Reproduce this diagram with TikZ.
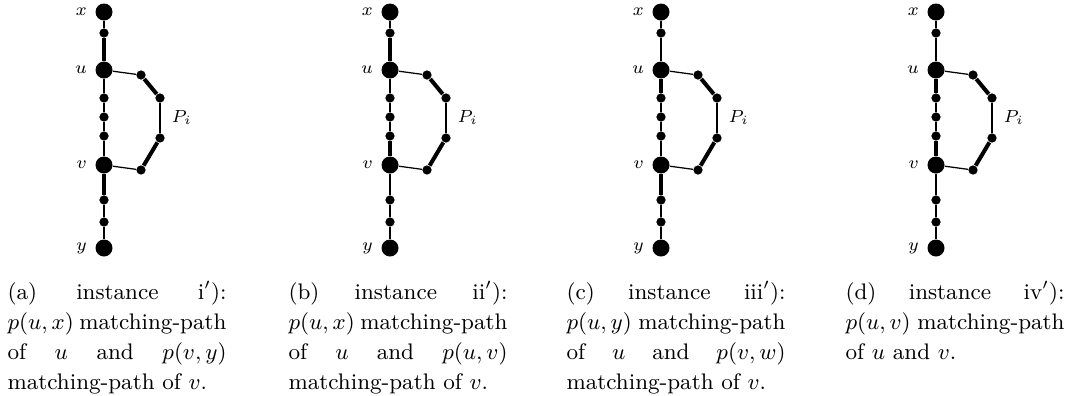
\documentclass[tikz,border=0pt]{standalone}
\usetikzlibrary{calc}
\tikzset{
  bignode/.style={circle, fill=black, inner sep=0pt, minimum size=6.8pt},
  smallnode/.style={circle, fill=black, inner sep=0pt, minimum size=3.7pt},
  thinedge/.style={line width=0.5pt},
  thickedge/.style={line width=1.6pt},
  lbl/.style={font=\fontsize{7.5}{9}\selectfont, inner sep=0pt},
  every label/.style={lbl},
  label distance=3pt,
  capt/.style={anchor=north west, inner sep=0pt, text width=87.6pt, align=justify, font=\fontsize{9}{12}\selectfont},
}
% #1 prefix, #2 x of main line, #3 s-u, #4 u-a, #5 c-v, #6 v-d
\newcommand\mypanel[6]{%
  \node[bignode, label=left:$x$] (#1x) at (#2,12) {};
  \node[smallnode] (#1s) at (#2,33) {};
  \node[bignode, label=left:$u$] (#1u) at (#2,70) {};
  \node[smallnode] (#1a) at (#2,98) {};
  \node[smallnode] (#1b) at (#2,117) {};
  \node[smallnode] (#1c) at (#2,136) {};
  \node[bignode, label=left:$v$] (#1v) at (#2,165) {};
  \node[smallnode] (#1d) at (#2,200) {};
  \node[smallnode] (#1e) at (#2,222) {};
  \node[bignode, label=left:$y$] (#1y) at (#2,248) {};
  \node[smallnode] (#1p) at ({#2+37},75) {};
  \node[smallnode] (#1q) at ({#2+56},98) {};
  \node[smallnode] (#1r) at ({#2+56},138) {};
  \node[smallnode] (#1t) at ({#2+37},170) {};
  \node[lbl, anchor=base west] (#1P) at ({#2+67},122) {$P_i$};
  \draw[thinedge] (#1x) -- (#1s);
  \draw[#3] (#1s) -- (#1u);
  \draw[#4] (#1u) -- (#1a);
  \draw[thinedge] (#1a) -- (#1b);
  \draw[thinedge] (#1b) -- (#1c);
  \draw[#5] (#1c) -- (#1v);
  \draw[#6] (#1v) -- (#1d);
  \draw[thinedge] (#1d) -- (#1e);
  \draw[thinedge] (#1e) -- (#1y);
  \draw[thinedge] (#1u) -- (#1p);
  \draw[thickedge] (#1p) -- (#1q);
  \draw[thinedge] (#1q) -- (#1r);
  \draw[thickedge] (#1r) -- (#1t);
  \draw[thinedge] (#1t) -- (#1v);
}
\begin{document}
\begin{tikzpicture}[x=0.4pt,y=-0.4pt]
\useasboundingbox (0,0) rectangle (1066,395);
\mypanel{A}{104}{thickedge}{thinedge}{thinedge}{thickedge}
\mypanel{B}{390}{thickedge}{thinedge}{thickedge}{thinedge}
\mypanel{C}{661}{thinedge}{thickedge}{thinedge}{thickedge}
\mypanel{D}{936}{thinedge}{thickedge}{thickedge}{thinedge}
\node[capt] (capA) at (7,279) {\rule{0pt}{8pt}(a) instance i$'$):\linebreak $p(u,x)$ matching-path\linebreak of $u$ and $p(v,y)$\linebreak matching-path of $v$.};
\node[capt] (capB) at (288,279) {\rule{0pt}{8pt}(b) instance ii$'$):\linebreak $p(u,x)$ matching-path\linebreak of $u$ and $p(u,v)$\linebreak matching-path of $v$.};
\node[capt] (capC) at (566,279) {\rule{0pt}{8pt}(c) instance iii$'$):\linebreak $p(u,y)$ matching-path\linebreak of $u$ and $p(v,w)$\linebreak matching-path of $v$.};
\node[capt] (capD) at (845,279) {\rule{0pt}{8pt}(d) instance iv$'$):\linebreak $p(u,v)$ matching-path\linebreak of $u$ and $v$.};
\end{tikzpicture}
\end{document}
